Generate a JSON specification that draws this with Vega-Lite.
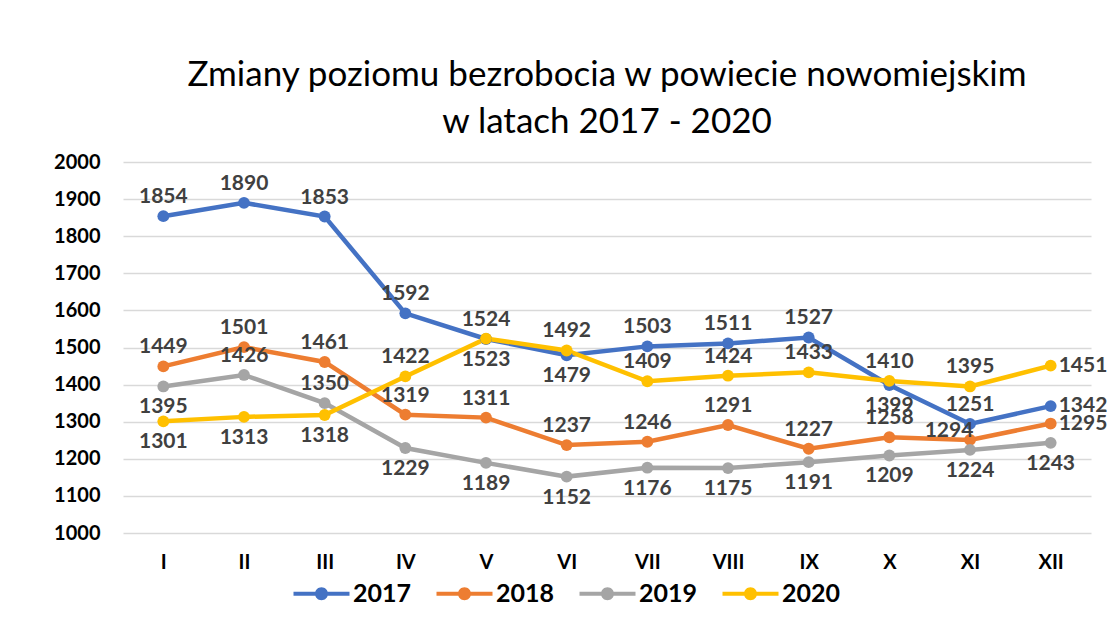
{
  "$schema": "https://vega.github.io/schema/vega-lite/v6.json",
  "width": 968,
  "height": 371,
  "autosize": {"type": "none"},
  "padding": {"left": 123, "top": 162, "right": 17, "bottom": 94},
  "background": "white",
  "title": {
    "text": ["Zmiany poziomu bezrobocia w powiecie nowomiejskim", "w latach 2017 - 2020"],
    "font": "Lato",
    "fontSize": 35,
    "fontWeight": "normal",
    "color": "#000000",
    "anchor": "middle",
    "lineHeight": 47,
    "offset": 12
  },
  "config": {
    "view": {"stroke": null},
    "axis": {"labelFont": "Lato", "labelFontWeight": "bold", "labelFontSize": 20, "labelColor": "#000000"}
  },
  "data": {
    "values": [
      {"month": "I", "year": "2017", "value": 1854},
      {"month": "II", "year": "2017", "value": 1890},
      {"month": "III", "year": "2017", "value": 1853},
      {"month": "IV", "year": "2017", "value": 1592},
      {"month": "V", "year": "2017", "value": 1523},
      {"month": "VI", "year": "2017", "value": 1479},
      {"month": "VII", "year": "2017", "value": 1503},
      {"month": "VIII", "year": "2017", "value": 1511},
      {"month": "IX", "year": "2017", "value": 1527},
      {"month": "X", "year": "2017", "value": 1399},
      {"month": "XI", "year": "2017", "value": 1294},
      {"month": "XII", "year": "2017", "value": 1342},
      {"month": "I", "year": "2018", "value": 1449},
      {"month": "II", "year": "2018", "value": 1501},
      {"month": "III", "year": "2018", "value": 1461},
      {"month": "IV", "year": "2018", "value": 1319},
      {"month": "V", "year": "2018", "value": 1311},
      {"month": "VI", "year": "2018", "value": 1237},
      {"month": "VII", "year": "2018", "value": 1246},
      {"month": "VIII", "year": "2018", "value": 1291},
      {"month": "IX", "year": "2018", "value": 1227},
      {"month": "X", "year": "2018", "value": 1258},
      {"month": "XI", "year": "2018", "value": 1251},
      {"month": "XII", "year": "2018", "value": 1295},
      {"month": "I", "year": "2019", "value": 1395},
      {"month": "II", "year": "2019", "value": 1426},
      {"month": "III", "year": "2019", "value": 1350},
      {"month": "IV", "year": "2019", "value": 1229},
      {"month": "V", "year": "2019", "value": 1189},
      {"month": "VI", "year": "2019", "value": 1152},
      {"month": "VII", "year": "2019", "value": 1176},
      {"month": "VIII", "year": "2019", "value": 1175},
      {"month": "IX", "year": "2019", "value": 1191},
      {"month": "X", "year": "2019", "value": 1209},
      {"month": "XI", "year": "2019", "value": 1224},
      {"month": "XII", "year": "2019", "value": 1243},
      {"month": "I", "year": "2020", "value": 1301},
      {"month": "II", "year": "2020", "value": 1313},
      {"month": "III", "year": "2020", "value": 1318},
      {"month": "IV", "year": "2020", "value": 1422},
      {"month": "V", "year": "2020", "value": 1524},
      {"month": "VI", "year": "2020", "value": 1492},
      {"month": "VII", "year": "2020", "value": 1409},
      {"month": "VIII", "year": "2020", "value": 1424},
      {"month": "IX", "year": "2020", "value": 1433},
      {"month": "X", "year": "2020", "value": 1410},
      {"month": "XI", "year": "2020", "value": 1395},
      {"month": "XII", "year": "2020", "value": 1451}
    ]
  },
  "encoding": {
    "x": {
      "field": "month",
      "type": "ordinal",
      "sort": ["I", "II", "III", "IV", "V", "VI", "VII", "VIII", "IX", "X", "XI", "XII"],
      "scale": {"paddingInner": 0, "paddingOuter": 0},
      "axis": {"title": null, "domain": false, "ticks": false, "labelAngle": 0, "labelPadding": 19, "grid": false}
    },
    "y": {
      "field": "value",
      "type": "quantitative",
      "scale": {"domain": [1000, 2000], "nice": false, "zero": false},
      "axis": {"title": null, "domain": false, "ticks": false, "values": [1000,1100,1200,1300,1400,1500,1600,1700,1800,1900,2000], "format": "d", "labelOverlap": false, "labelPadding": 23, "grid": true, "gridColor": "#d9d9d9", "gridWidth": 1.5}
    }
  },
  "layer": [
    {
      "mark": {"type": "line", "strokeWidth": 4.5},
      "encoding": {
        "color": {
          "field": "year",
          "type": "nominal",
          "scale": {"domain": ["2017", "2018", "2019", "2020"], "range": ["#4472C4", "#ED7D31", "#A5A5A5", "#FFC000"]},
          "legend": {
            "title": null,
            "orient": "none",
            "direction": "horizontal",
            "legendX": 186,
            "legendY": 419,
            "padding": 0,
            "symbolType": "M-5.6,-0.4L5.6,-0.4L5.6,0.4L-5.6,0.4Z M-1.3,0A1.3,1.3,0,1,1,1.3,0A1.3,1.3,0,1,1,-1.3,0Z",
            "symbolSize": 100,
            "symbolStrokeWidth": 0,
            "labelFont": "Lato",
            "labelFontSize": 25,
            "labelFontWeight": "bold",
            "labelColor": "#000000",
            "labelOffset": 19,
            "columnPadding": 24,
            "encode": {"symbols": {"update": {"fill": {"scale": "color", "field": "value"}, "strokeWidth": {"value": 0}}}}
          }
        }
      }
    },
    {
      "mark": {"type": "point", "filled": true, "size": 140, "opacity": 1},
      "encoding": {"color": {"field": "year", "type": "nominal", "legend": null}}
    },
    {
      "transform": [{"filter": "(datum.year=='2017' && indexof(['I','II','III','IV','VII','VIII','IX'], datum.month) >= 0) || (datum.year=='2018' && indexof(['XI','XII'], datum.month) < 0) || (datum.year=='2019' && indexof(['II','III'], datum.month) >= 0) || (datum.year=='2020' && indexof(['IV','V','VI','VII','VIII','IX','X','XI'], datum.month) >= 0)"}],
      "mark": {"type": "text", "dy": -19, "baseline": "middle", "font": "Lato", "fontSize": 21, "fontWeight": "bold", "color": "#404040"},
      "encoding": {"text": {"field": "value", "type": "quantitative", "format": "d"}}
    },
    {
      "transform": [{"filter": "(datum.year=='2017' && indexof(['V','VI','X'], datum.month) >= 0) || (datum.year=='2019' && indexof(['II','III'], datum.month) < 0) || (datum.year=='2020' && indexof(['I','II','III'], datum.month) >= 0)"}],
      "mark": {"type": "text", "dy": 21, "baseline": "middle", "font": "Lato", "fontSize": 21, "fontWeight": "bold", "color": "#404040"},
      "encoding": {"text": {"field": "value", "type": "quantitative", "format": "d"}}
    },
    {
      "transform": [{"filter": "datum.month=='XII' && datum.year!='2019'"}],
      "mark": {"type": "text", "dx": 8, "dy": 0, "align": "left", "baseline": "middle", "font": "Lato", "fontSize": 21, "fontWeight": "bold", "color": "#404040"},
      "encoding": {"text": {"field": "value", "type": "quantitative", "format": "d"}}
    },
    {
      "transform": [{"filter": "datum.month=='XI' && datum.year=='2017'"}],
      "mark": {"type": "text", "dx": -21, "dy": 7, "baseline": "middle", "font": "Lato", "fontSize": 21, "fontWeight": "bold", "color": "#404040"},
      "encoding": {"text": {"field": "value", "type": "quantitative", "format": "d"}}
    },
    {
      "transform": [{"filter": "datum.month=='XI' && datum.year=='2018'"}],
      "mark": {"type": "text", "dy": -35, "baseline": "middle", "font": "Lato", "fontSize": 21, "fontWeight": "bold", "color": "#404040"},
      "encoding": {"text": {"field": "value", "type": "quantitative", "format": "d"}}
    }
  ]
}
